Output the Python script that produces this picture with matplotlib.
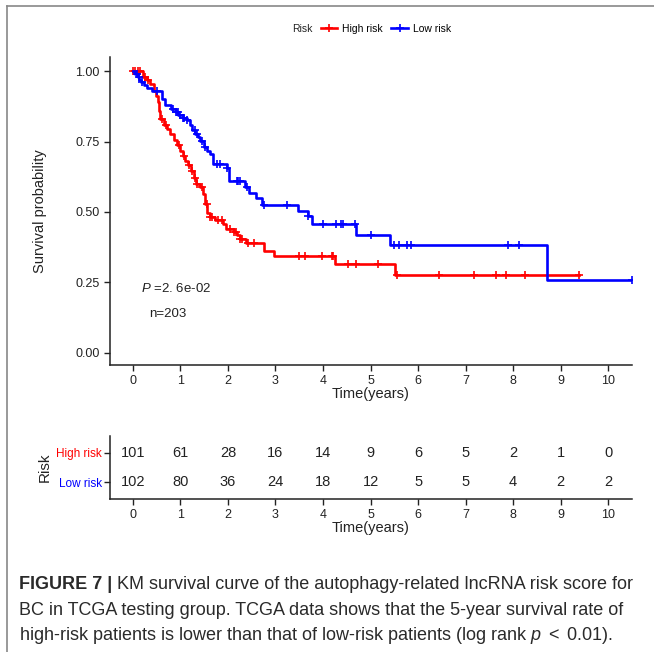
import matplotlib.pyplot as plt
from matplotlib.lines import Line2D
from matplotlib.text import Annotation
import numpy as np

plt.rcParams['font.family'] = ['Liberation Sans', 'DejaVu Sans']
plt.rcParams['mathtext.fontset'] = 'custom'
plt.rcParams['mathtext.it'] = 'Liberation Sans:italic'
plt.rcParams['mathtext.rm'] = 'Liberation Sans'

# KM step data (time in years, survival probability)
high_t = [0, 0.22, 0.30, 0.37, 0.44, 0.49, 0.52, 0.55, 0.58, 0.65, 0.72, 0.79, 0.86,
          0.93, 1.00, 1.05, 1.09, 1.17, 1.23, 1.28, 1.33, 1.42, 1.48, 1.52, 1.56,
          1.62, 1.73, 1.90, 1.97, 2.12, 2.19, 2.26, 2.38, 2.75, 2.96, 4.25, 5.52]
high_s = [1.0, 0.98, 0.97, 0.955, 0.93, 0.91, 0.89, 0.86, 0.83, 0.81, 0.795, 0.777, 0.756,
          0.736, 0.716, 0.70, 0.68, 0.668, 0.645, 0.62, 0.60, 0.588, 0.565, 0.53, 0.495,
          0.483, 0.47, 0.458, 0.44, 0.43, 0.417, 0.405, 0.39, 0.363, 0.343, 0.316, 0.278]
high_end = 9.38
high_cens = [0, 0.05, 0.10, 0.15, 0.25, 0.32, 0.62, 0.70, 0.98, 1.07, 1.18, 1.25, 1.31,
             1.36, 1.45, 1.55, 1.63, 1.66, 1.80, 1.87, 2.05, 2.12, 2.17, 2.26, 2.29,
             2.43, 2.55, 3.50, 3.62, 3.97, 4.18, 4.22, 4.53, 4.69, 5.16, 5.56, 6.45,
             7.18, 7.64, 7.85, 8.25, 9.38]

low_t = [0, 0.05, 0.10, 0.14, 0.18, 0.24, 0.30, 0.40, 0.61, 0.68, 0.80, 0.90, 0.96,
         1.05, 1.13, 1.21, 1.25, 1.31, 1.38, 1.42, 1.50, 1.55, 1.62, 1.69, 1.98, 2.02,
         2.35, 2.45, 2.59, 2.72, 3.47, 3.69, 3.76, 4.70, 5.42, 8.72]
low_s = [1.0, 0.99, 0.98, 0.97, 0.96, 0.95, 0.94, 0.93, 0.90, 0.878, 0.866, 0.855, 0.845,
         0.835, 0.825, 0.807, 0.79, 0.775, 0.765, 0.752, 0.73, 0.718, 0.706, 0.672, 0.655,
         0.611, 0.59, 0.566, 0.548, 0.525, 0.502, 0.484, 0.458, 0.42, 0.383, 0.257]
low_end = 10.5
low_cens = [0.08, 0.12, 0.20, 0.50, 0.85, 0.90, 0.95, 1.00, 1.05, 1.08, 1.15, 1.30,
            1.35, 1.45, 1.52, 1.77, 1.84, 1.98, 2.19, 2.22, 2.26, 2.40, 2.75, 3.24,
            3.69, 4.00, 4.27, 4.37, 4.42, 4.67, 5.00, 5.50, 5.59, 5.77, 5.86, 7.90,
            8.13, 10.5]

years = list(range(11))
high_risk_n = [101, 61, 28, 16, 14, 9, 6, 5, 2, 1, 0]
low_risk_n = [102, 80, 36, 24, 18, 12, 5, 5, 4, 2, 2]

red = '#FF0000'
blue = '#0000FF'
dark = '#222222'


def surv_at(times, surv, t):
    idx = np.searchsorted(times, t, side='right') - 1
    return np.asarray(surv)[idx]


fig = plt.figure(figsize=(6.54, 6.52), dpi=100)

# frame lines (left and top) like the journal page
fig.add_artist(Line2D([7 / 654, 7 / 654], [0, 1 - 6 / 652], color='#888888', lw=1.2))
fig.add_artist(Line2D([7 / 654, 1], [1 - 6 / 652, 1 - 6 / 652], color='#888888', lw=1.2))

ax = fig.add_axes([110 / 654, 1 - 365 / 652, 522 / 654, 308 / 652])
for t, s, end, cens, col in [(high_t, high_s, high_end, high_cens, red),
                             (low_t, low_s, low_end, low_cens, blue)]:
    ax.step(list(t) + [end], list(s) + [s[-1]], where='post', color=col, lw=1.9)
    ax.plot(cens, surv_at(t, s, cens), ls='none', marker='+', color=col,
            markersize=6, mew=1.2)

ax.set_xlim(-0.48, 10.5)
ax.set_ylim(-0.043, 1.05)
ax.set_xticks(years)
ax.set_yticks([0, 0.25, 0.5, 0.75, 1.0])
ax.set_yticklabels(['0.00', '0.25', '0.50', '0.75', '1.00'])
ax.spines['top'].set_visible(False)
ax.spines['right'].set_visible(False)
for sp in ['left', 'bottom']:
    ax.spines[sp].set_linewidth(1.1)
    ax.spines[sp].set_color(dark)
ax.tick_params(labelsize=9, colors=dark, length=4, width=1)
ax.set_ylabel('Survival probability', fontsize=10.5, color=dark, labelpad=20)
ax.set_xlabel('Time(years)', fontsize=10.5, color=dark, labelpad=0)
ax.text(0.17, 0.227, r'$\it{P}$ =2. 6e-02', fontsize=9.5, color=dark, va='center')
ax.text(0.34, 0.138, 'n=203', fontsize=9.5, color=dark, va='center')

# legend on top
fig.text(302 / 654, 1 - 29 / 652, 'Risk', fontsize=7.5, color=dark, ha='center', va='center')
handles = [Line2D([], [], color=red, lw=1.9, marker='+', markersize=6, mew=1.2),
           Line2D([], [], color=blue, lw=1.9, marker='+', markersize=6, mew=1.2)]
fig.legend(handles, ['High risk', 'Low risk'], loc='center', ncol=2,
           bbox_to_anchor=(386 / 654, 1 - 29 / 652), frameon=False, fontsize=7.5,
           handlelength=1.6, handletextpad=0.5, columnspacing=0.8)

# risk table
tab = fig.add_axes([110 / 654, 1 - 499 / 652, 522 / 654, 63 / 652])
tab.set_xlim(-0.48, 10.5)
tab.set_ylim(-0.586, 1.586)
for x, hn, ln in zip(years, high_risk_n, low_risk_n):
    tab.text(x, 1, str(hn), ha='center', va='center', fontsize=10.5, color=dark)
    tab.text(x, 0, str(ln), ha='center', va='center', fontsize=10.5, color=dark)
tab.set_xticks(years)
tab.set_yticks([0, 1])
tab.set_yticklabels(['Low risk', 'High risk'])
tab.spines['top'].set_visible(False)
tab.spines['right'].set_visible(False)
for sp in ['left', 'bottom']:
    tab.spines[sp].set_linewidth(1.1)
    tab.spines[sp].set_color(dark)
tab.tick_params(labelsize=9, colors=dark, length=4, width=1)
tab.tick_params(axis='y', labelsize=8.5, pad=2)
for lab, col in zip(tab.get_yticklabels(), [blue, red]):
    lab.set_color(col)
tab.set_xlabel('Time(years)', fontsize=10.5, color=dark, labelpad=0)
tab.set_ylabel('Risk', fontsize=11, color=dark, labelpad=3)

# caption
cap_col = '#2a2a2a'
bold = fig.text(19 / 654, 1 - 589 / 652, 'FIGURE 7 |', fontsize=13, fontweight='bold',
                color=cap_col, va='baseline')
fig.add_artist(Annotation(
    ' KM survival curve of the autophagy-related lncRNA risk score for',
    xy=(1, 0), xycoords=bold, va='bottom', ha='left', fontsize=13, color=cap_col))
fig.text(19 / 654, 1 - 615 / 652,
         'BC in TCGA testing group. TCGA data shows that the 5-year survival rate of',
         fontsize=13, color=cap_col, va='baseline')
fig.text(19 / 654, 1 - 640 / 652,
         r'high-risk patients is lower than that of low-risk patients (log rank $p$ $<$ 0.01).',
         fontsize=13, color=cap_col, va='baseline')

fig.savefig('out.png', dpi=100)
